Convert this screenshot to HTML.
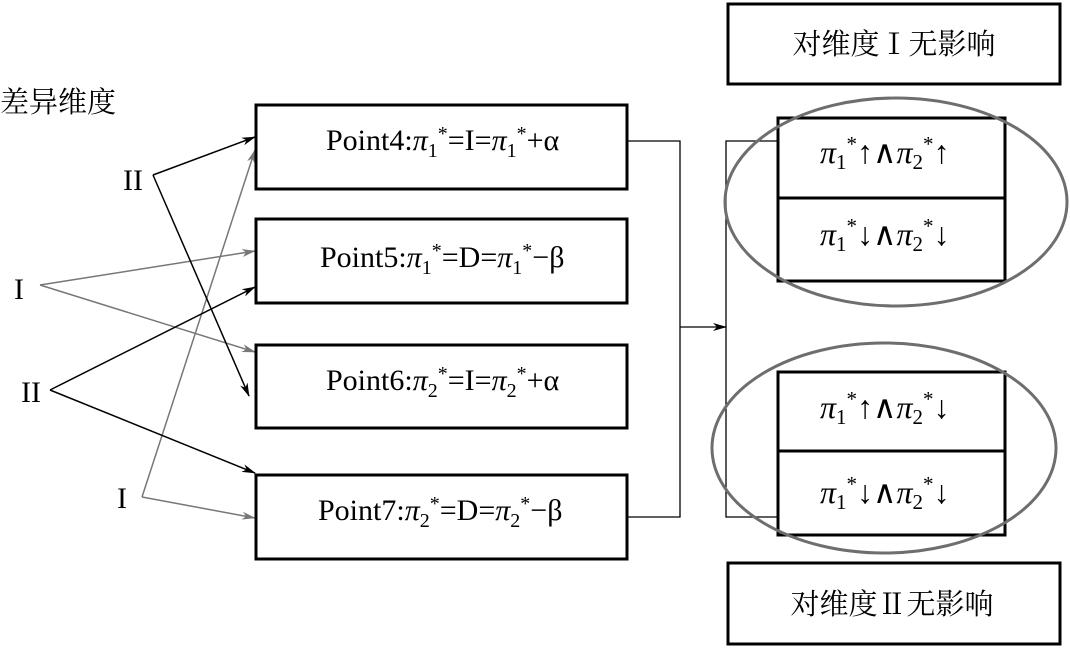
<!DOCTYPE html>
<html><head><meta charset="utf-8"><style>
html,body{margin:0;padding:0;background:#fff;}
svg{display:block;}
</style></head><body>
<svg width="1070" height="648" viewBox="0 0 1070 648" xmlns="http://www.w3.org/2000/svg">
<defs>
<marker id="ab" markerWidth="14" markerHeight="8" refX="13" refY="4" orient="auto" markerUnits="userSpaceOnUse"><path d="M0,0 L14,4 L0,8 L4,4 z" fill="#000"/></marker>
<marker id="ag" markerWidth="14" markerHeight="8" refX="13" refY="4" orient="auto" markerUnits="userSpaceOnUse"><path d="M0,0 L14,4 L0,8 L4,4 z" fill="#777"/></marker>
</defs>
<g style="font-family:'Liberation Serif','Noto Serif CJK SC',serif" fill="#000">
<text x="0" y="112" font-size="29">差异维度</text>
<text x="123" y="190" font-size="30">II</text>
<text x="14" y="299" font-size="30">I</text>
<text x="21" y="402" font-size="30">II</text>
<text x="117" y="508" font-size="30">I</text>
</g>
<g stroke="#777" stroke-width="1.5" fill="none">
<line x1="40" y1="285" x2="255" y2="251" marker-end="url(#ag)"/>
<line x1="40" y1="285" x2="255" y2="352" marker-end="url(#ag)"/>
<polyline points="142,497 255,150" marker-end="url(#ag)"/>
<polyline points="142,497 255,518" marker-end="url(#ag)"/>
</g>
<g stroke="#000" stroke-width="1.5" fill="none">
<line x1="153" y1="175" x2="255" y2="137" marker-end="url(#ab)"/>
<line x1="153" y1="175" x2="249" y2="396" marker-end="url(#ab)"/>
<line x1="50" y1="390" x2="255" y2="287" marker-end="url(#ab)"/>
<line x1="50" y1="390" x2="255" y2="473" marker-end="url(#ab)"/>
</g>
<g stroke="#000" stroke-width="3" fill="#fff">
<rect x="256" y="105" width="371" height="84"/>
<rect x="256" y="219" width="371" height="84"/>
<rect x="256" y="345" width="371" height="83"/>
<rect x="256" y="475" width="371" height="84"/>
</g>
<g style="font-family:'Liberation Serif',serif" font-size="30" fill="#000">
<text x="326" y="150">Point4:<tspan font-style="italic">π</tspan><tspan font-size="20" dy="7">1</tspan><tspan font-size="20" dy="-17">*</tspan><tspan dy="10">=I=</tspan><tspan font-style="italic">π</tspan><tspan font-size="20" dy="7">1</tspan><tspan font-size="20" dy="-17">*</tspan><tspan dy="10">+α</tspan></text>
<text x="320" y="267">Point5:<tspan font-style="italic">π</tspan><tspan font-size="20" dy="7">1</tspan><tspan font-size="20" dy="-17">*</tspan><tspan dy="10">=D=</tspan><tspan font-style="italic">π</tspan><tspan font-size="20" dy="7">1</tspan><tspan font-size="20" dy="-17">*</tspan><tspan dy="10">−β</tspan></text>
<text x="326" y="390">Point6:<tspan font-style="italic">π</tspan><tspan font-size="20" dy="7">2</tspan><tspan font-size="20" dy="-17">*</tspan><tspan dy="10">=I=</tspan><tspan font-style="italic">π</tspan><tspan font-size="20" dy="7">2</tspan><tspan font-size="20" dy="-17">*</tspan><tspan dy="10">+α</tspan></text>
<text x="318" y="520">Point7:<tspan font-style="italic">π</tspan><tspan font-size="20" dy="7">2</tspan><tspan font-size="20" dy="-17">*</tspan><tspan dy="10">=D=</tspan><tspan font-style="italic">π</tspan><tspan font-size="20" dy="7">2</tspan><tspan font-size="20" dy="-17">*</tspan><tspan dy="10">−β</tspan></text>
</g>
<g stroke="#000" stroke-width="1.3" fill="none">
<polyline points="627,141 680,141 680,517 627,517"/>
<polyline points="778,141 726,141 726,517 778,517"/>
<line x1="680" y1="327" x2="726" y2="327" marker-end="url(#ab)"/>
</g>
<g stroke="#000" stroke-width="3" fill="#fff">
<rect x="728" y="4" width="332" height="80"/>
<rect x="728" y="563" width="332" height="81"/>
<rect x="778" y="118" width="227" height="80"/>
<rect x="778" y="198" width="227" height="83"/>
<rect x="778" y="372" width="227" height="79"/>
<rect x="778" y="451" width="227" height="84"/>
</g>
<g style="font-family:'Liberation Serif','Noto Serif CJK SC',serif" font-size="29" fill="#000" text-anchor="middle">
<text x="894" y="54">对维度Ⅰ无影响</text>
<text x="892" y="614">对维度Ⅱ无影响</text>
</g>
<g style="font-family:'Liberation Serif','DejaVu Serif',serif" font-size="32" fill="#000">
<text x="820" y="163"><tspan font-style="italic">π</tspan><tspan font-size="21" dy="6">1</tspan><tspan font-size="21" dy="-18">*</tspan><tspan dy="12">↑∧</tspan><tspan font-style="italic">π</tspan><tspan font-size="21" dy="6">2</tspan><tspan font-size="21" dy="-18">*</tspan><tspan dy="12">↑</tspan></text>
<text x="820" y="245"><tspan font-style="italic">π</tspan><tspan font-size="21" dy="6">1</tspan><tspan font-size="21" dy="-18">*</tspan><tspan dy="12">↓∧</tspan><tspan font-style="italic">π</tspan><tspan font-size="21" dy="6">2</tspan><tspan font-size="21" dy="-18">*</tspan><tspan dy="12">↓</tspan></text>
<text x="820" y="418"><tspan font-style="italic">π</tspan><tspan font-size="21" dy="6">1</tspan><tspan font-size="21" dy="-18">*</tspan><tspan dy="12">↑∧</tspan><tspan font-style="italic">π</tspan><tspan font-size="21" dy="6">2</tspan><tspan font-size="21" dy="-18">*</tspan><tspan dy="12">↓</tspan></text>
<text x="820" y="503"><tspan font-style="italic">π</tspan><tspan font-size="21" dy="6">1</tspan><tspan font-size="21" dy="-18">*</tspan><tspan dy="12">↓∧</tspan><tspan font-style="italic">π</tspan><tspan font-size="21" dy="6">2</tspan><tspan font-size="21" dy="-18">*</tspan><tspan dy="12">↓</tspan></text>
</g>
<g stroke="#6e6e6e" stroke-width="3" fill="none">
<ellipse cx="896" cy="202" rx="171" ry="104"/>
<ellipse cx="884" cy="448" rx="172" ry="105"/>
</g>
</svg>
</body></html>
